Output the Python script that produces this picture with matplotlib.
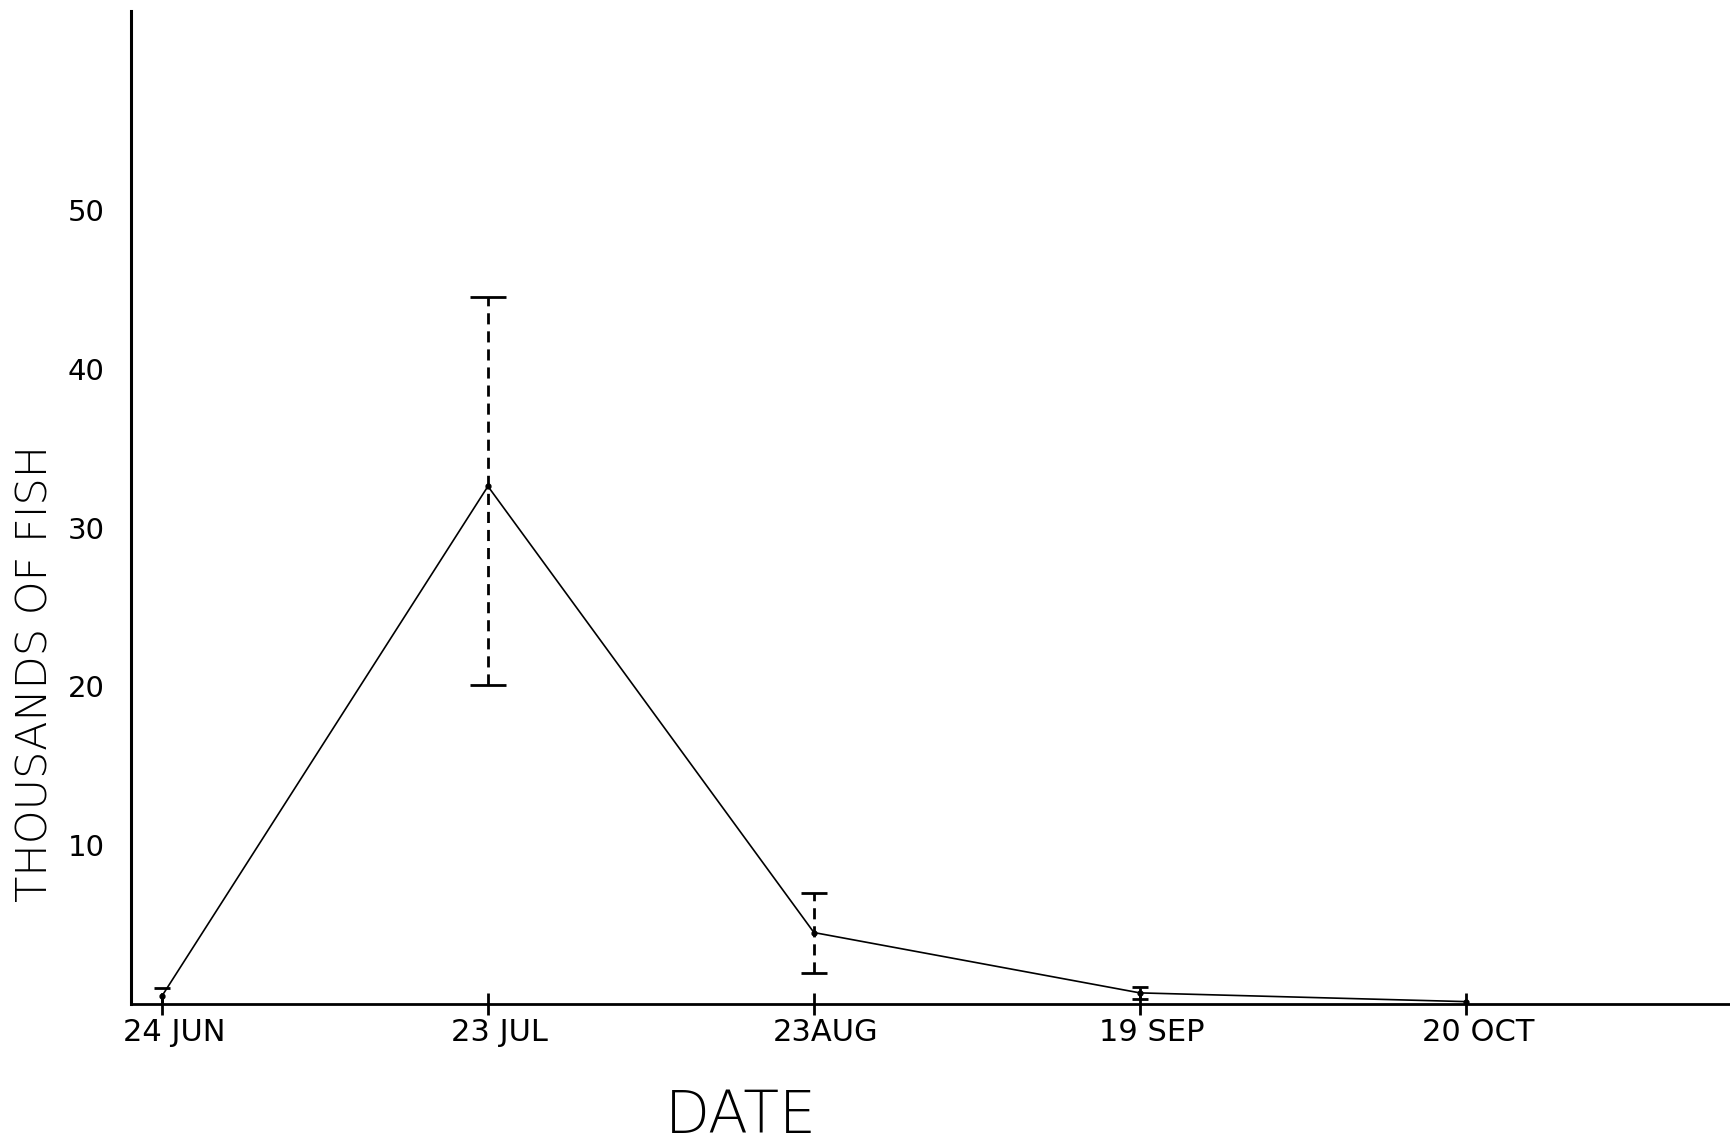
import matplotlib.pyplot as plt
from matplotlib.transforms import ScaledTranslation

# sampling dates and estimated catch (thousands of fish)
dates = ["24 JUN", "23 JUL", "23AUG", "19 SEP", "20 OCT"]
fish = [0.5, 32.6, 4.5, 0.7, 0.15]
err_low = [0.0, 20.1, 1.95, 0.3, 0.15]
err_high = [1.0, 44.5, 7.0, 1.1, 0.15]
cap_pts = [5.5, 13, 9.5, 5.5, 0]

y_ticks = [10, 20, 30, 40, 50]

plt.rcParams['font.family'] = ['DejaVu Sans']

fig = plt.figure(figsize=(17.30, 11.43), dpi=100)
ax = fig.add_axes([0.0757, 0.1216, 0.9243, 0.8684])

x = list(range(len(dates)))
ax.plot(x, fish, color='black', lw=1.2, marker='o', ms=3.5, zorder=3)

for xi, yi, lo, hi, cs in zip(x, fish, err_low, err_high, cap_pts):
    if hi - lo <= 0:
        continue
    ax.plot([xi, xi], [lo, hi], color='black', lw=2.0, ls=(0, (4, 2.5)), zorder=2)
    for yc in (lo, hi):
        if yc > 0:
            ax.plot([xi], [yc], marker='_', ms=2 * cs, mew=2.0, color='black', zorder=2)

ax.set_xlim(-0.095, 4.81)
ax.set_ylim(0, 62.5)

for side in ('top', 'right'):
    ax.spines[side].set_visible(False)
ax.spines['left'].set_linewidth(2.2)
ax.spines['bottom'].set_linewidth(2.0)

ax.set_yticks(y_ticks)
ax.set_yticklabels([str(v) for v in y_ticks], fontsize=21)
ax.tick_params(axis='y', length=0, pad=19)

ax.set_xticks(x)
ax.set_xticklabels(dates, fontsize=22)
ax.tick_params(axis='x', direction='inout', length=16, width=2, pad=2)
for lab in ax.get_xticklabels():
    lab.set_transform(lab.get_transform() + ScaledTranslation(12 / 100, 0, fig.dpi_scale_trans))

fig.text(35 / 1730, 1 - 673 / 1143, "THOUSANDS OF FISH", rotation=90,
         ha='center', va='center', fontsize=31, fontweight='light')
fig.text(741 / 1730, 1 - 1117 / 1143, "DATE", ha='center', va='center',
         fontsize=42, fontweight='light')

fig.savefig("out.png", dpi=100)
